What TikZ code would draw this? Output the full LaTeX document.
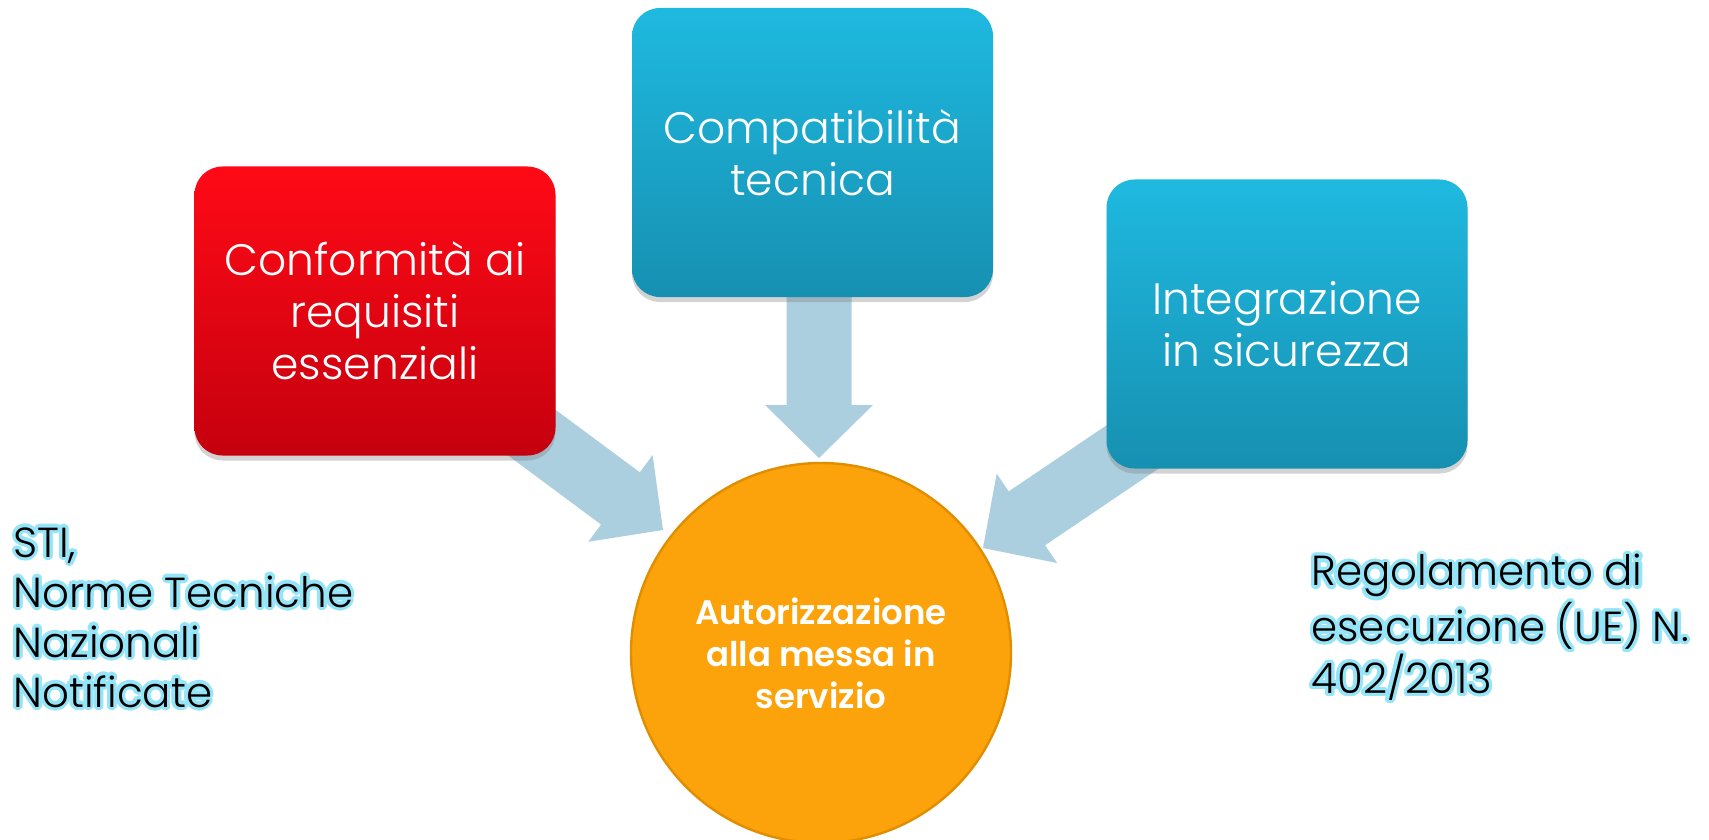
\documentclass[tikz,border=0pt]{standalone}
\usepackage{fontspec}
\setmainfont{Poppins}
\newfontfamily\lightfont{Poppins Light}
\newfontfamily\semifont{Poppins SemiBold}
\usepackage{contour}
\contourlength{1.6pt}
\contournumber{24}
\usetikzlibrary{calc,shadows,backgrounds}
\definecolor{redtop}{HTML}{FF0A16}
\definecolor{redbot}{HTML}{C5000E}
\definecolor{bluetop}{HTML}{1FB9E0}
\definecolor{bluebot}{HTML}{1690B1}
\definecolor{orangefill}{HTML}{FCA30B}
\definecolor{orangeedge}{HTML}{E08E00}
\definecolor{arrowblue}{HTML}{ABCFDF}
\definecolor{glowcol}{HTML}{96E4F8}
\newcommand\blockarrow[3]{% name, tail, tip
  \coordinate (#1b) at ($(#3)!26.5pt!(#2)$);
  \fill[arrowblue] ($(#2)!16.25pt!90:(#3)$) -- ($(#1b)!16.25pt!90:(#3)$)
    -- ($(#1b)!27pt!90:(#3)$) -- (#3) -- ($(#1b)!27pt!-90:(#3)$)
    -- ($(#1b)!16.25pt!-90:(#3)$) -- ($(#2)!16.25pt!-90:(#3)$) -- cycle;
}
\tikzset{
  boxbase/.style={rounded corners=14pt, minimum width=180.5pt, minimum height=144.5pt,
    inner sep=0pt, align=center, text=white, font=\lightfont\fontsize{22}{26}\selectfont,
    drop shadow={opacity=0.35, shadow xshift=0pt, shadow yshift=-2.5pt}},
  redbox/.style={boxbase, top color=redtop, bottom color=redbot},
  bluebox/.style={boxbase, top color=bluetop, bottom color=bluebot},
  goalcirc/.style={circle, minimum size=190pt, inner sep=0pt, fill=orangefill,
    draw=orangeedge, line width=1.2pt, align=center, text=white,
    font=\semifont\fontsize{17}{21}\selectfont},
  sidetext/.style={inner sep=0pt, align=left, text=black}
}
\begin{document}
\begin{tikzpicture}[x=0.5pt,y=-0.5pt]
\useasboundingbox (0,0) rectangle (1709,840);
\node[redbox] (conf) at (375,311) {Conformità ai\\requisiti\\essenziali};
\node[bluebox] (comp) at (812.5,152.5) {Compatibilità\\tecnica};
\node[bluebox] (integ) at (1287,324) {Integrazione\\in sicurezza};
\node[goalcirc] (aut) at (821,653) {Autorizzazione\\alla messa in\\servizio};
\coordinate (tailT) at (819,200);
\coordinate (tipT) at (819,458);
\coordinate (tailL) at (380,320);
\coordinate (tipL) at (663,530);
\coordinate (tailR) at (1270,354);
\coordinate (tipR) at (983,548);
\begin{scope}[on background layer]
\blockarrow{aT}{tailT}{tipT}
\blockarrow{aL}{tailL}{tipL}
\blockarrow{aR}{tailR}{tipR}
\end{scope}
\node[sidetext, anchor=north west, font=\lightfont\fontsize{21}{25}\selectfont] (sti) at (13,527)
  {\contour{glowcol}{STI,}\\\contour{glowcol}{Norme Tecniche}\\\contour{glowcol}{Nazionali}\\\contour{glowcol}{Notificate}};
\node[sidetext, anchor=north west, font=\lightfont\fontsize{21}{26}\selectfont] (reg) at (1311,554)
  {\contour{glowcol}{Regolamento di}\\\contour{glowcol}{esecuzione (UE) N.}\\\contour{glowcol}{402/2013}};
\end{tikzpicture}
\end{document}
